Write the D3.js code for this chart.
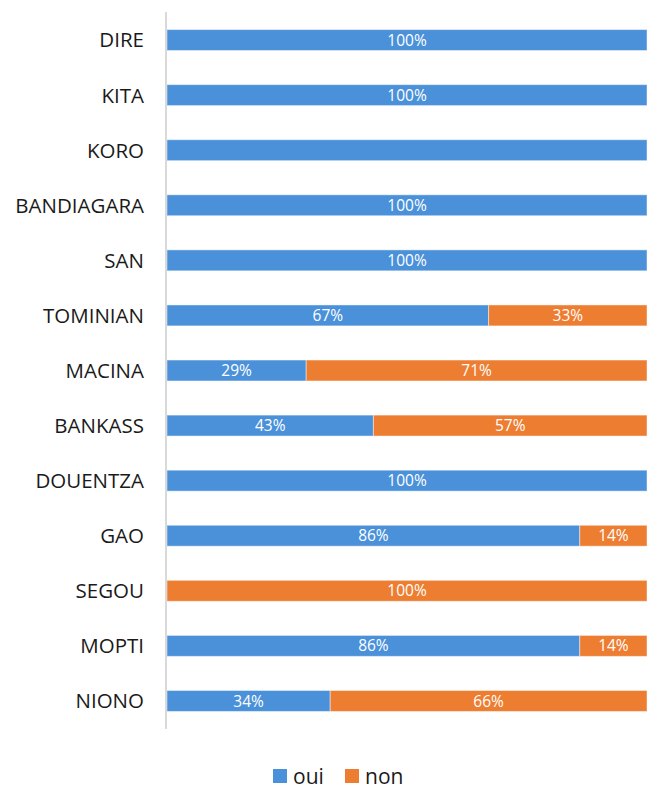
<!DOCTYPE html>
<html>
<head>
<meta charset="utf-8">
<script src="https://cdn.jsdelivr.net/npm/d3@7"></script>
<style>
  html, body { margin: 0; padding: 0; background: #fff; }
  svg { display: block; }
  text { font-family: "Open Sans", "Noto Sans", sans-serif; }
</style>
</head>
<body>
<svg id="chart" width="647" height="791"></svg>
<script>
// Regions, top to bottom
const categories = ["DIRE", "KITA", "KORO", "BANDIAGARA", "SAN", "TOMINIAN", "MACINA",
                    "BANKASS", "DOUENTZA", "GAO", "SEGOU", "MOPTI", "NIONO"];
// Share answering "oui" / "non" (percent)
const ouiValues = [100, 100, 100, 100, 100, 67, 29, 43, 100, 86, 0, 86, 34];
const nonValues = [0, 0, 0, 0, 0, 33, 71, 57, 0, 14, 100, 14, 66];
// Rows whose data labels are not shown
const unlabelled = ["KORO"];
const seriesNames = ["oui", "non"];
const seriesColors = ["#4A91DA", "#ED7D31"];

const svg = d3.select("#chart");

const x = d3.scaleLinear().domain([0, 100]).range([167, 647]);
const y = d3.scaleBand().domain(categories).range([12.5, 728.5]).paddingInner(0.62).paddingOuter(0.31);

const rows = categories.map((c, i) => ({ cat: c, oui: ouiValues[i], non: nonValues[i] }));
const stacked = d3.stack().keys(seriesNames)(rows);
const color = d3.scaleOrdinal().domain(seriesNames).range(seriesColors);

// Bars
const layers = svg.append("g").selectAll("g").data(stacked).join("g")
  .attr("fill", d => color(d.key));

layers.selectAll("rect").data(d => d.map(s => ({ key: d.key, s })))
  .join("rect")
  .attr("x", d => x(d.s[0]))
  .attr("y", d => y(d.s.data.cat))
  .attr("width", d => x(d.s[1]) - x(d.s[0]))
  .attr("height", y.bandwidth())
  .attr("stroke", "#ffffff")
  .attr("stroke-opacity", 0.45)
  .attr("stroke-width", 1);

// Data labels
layers.selectAll("text").data(d => d.map(s => ({ key: d.key, s })))
  .join("text")
  .filter(d => d.s[1] - d.s[0] > 0 && !unlabelled.includes(d.s.data.cat))
  .attr("x", d => (x(d.s[0]) + x(d.s[1])) / 2)
  .attr("y", d => y(d.s.data.cat) + y.bandwidth() / 2)
  .attr("dy", "0.36em")
  .attr("text-anchor", "middle")
  .attr("fill", "#ffffff")
  .attr("font-size", 15.5)
  .text(d => (d.s[1] - d.s[0]) + "%");

// Category axis
const yAxis = svg.append("g")
  .attr("transform", "translate(166,0)")
  .call(d3.axisLeft(y).tickSize(0).tickPadding(22));
yAxis.select(".domain").attr("d", "M0,12V729").attr("stroke", "#d9d9d9").attr("stroke-width", 2);
yAxis.selectAll(".tick text")
  .attr("font-size", 20.5)
  .attr("dy", "0.36em")
  .attr("fill", "#1a1a1a")
  .attr("font-family", "\"Open Sans\", sans-serif");

// Legend
const legend = svg.append("g").attr("transform", "translate(273,769)");
const legendItems = legend.selectAll("g").data(seriesNames).join("g")
  .attr("transform", (d, i) => `translate(${i * 72},0)`);
legendItems.append("rect")
  .attr("width", 14).attr("height", 14)
  .attr("fill", d => color(d));
legendItems.append("text")
  .attr("x", 20).attr("y", 7).attr("dy", "0.36em")
  .attr("font-size", 21)
  .attr("fill", "#1a1a1a")
  .text(d => d);
</script>
</body>
</html>
